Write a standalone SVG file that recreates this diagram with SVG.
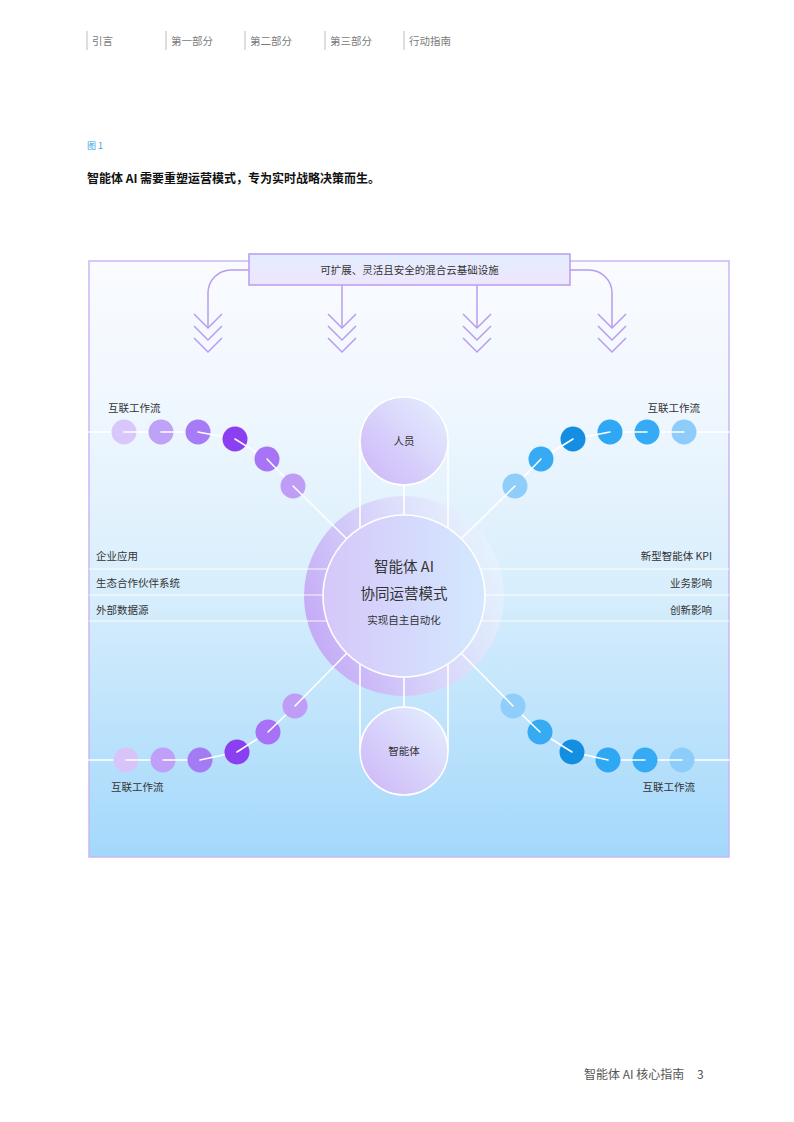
<svg xmlns="http://www.w3.org/2000/svg" width="794" height="1122" viewBox="0 0 794 1122">
<style>
text{font-family:"Noto Sans CJK SC","Noto Sans",sans-serif;}
.nav{font-size:10.5px;fill:#7a7a7a;}
.sep{stroke:#bdbdbd;stroke-width:1;}
.lbl{font-size:10.5px;fill:#333;}
.wl{stroke:#ffffff;stroke-width:1.6;fill:none;stroke-linecap:round;}
.hl{stroke:#ffffff;stroke-width:1.2;opacity:0.9;}
.arr{stroke:#b89cee;stroke-width:1.5;fill:none;}
.ctr{text-anchor:middle;}
</style>
<defs>
<linearGradient id="bg" x1="0" y1="0" x2="0" y2="1">
<stop offset="0" stop-color="#fafbff"/>
<stop offset="0.25" stop-color="#eff7fe"/>
<stop offset="0.55" stop-color="#d8eefc"/>
<stop offset="1" stop-color="#a3d8fb"/>
</linearGradient>
<linearGradient id="box" x1="0" y1="0" x2="0" y2="1">
<stop offset="0" stop-color="#e3eefd"/>
<stop offset="1" stop-color="#eee5fd"/>
</linearGradient>
<linearGradient id="halo" x1="0" y1="0.7" x2="1" y2="0.3">
<stop offset="0" stop-color="#c3a8f6"/>
<stop offset="0.5" stop-color="#d8d5fa"/>
<stop offset="1" stop-color="#eaf5fe" stop-opacity="0.7"/>
</linearGradient>
<linearGradient id="inner" x1="0" y1="0" x2="1" y2="0">
<stop offset="0" stop-color="#d6c7fa"/>
<stop offset="1" stop-color="#d3e9fe"/>
</linearGradient>
<linearGradient id="node" x1="0" y1="1" x2="1" y2="0">
<stop offset="0" stop-color="#cdb4f8"/>
<stop offset="1" stop-color="#e4f2fe"/>
</linearGradient>
</defs>

<!-- header nav -->
<g id="nav">
<line class="sep" x1="87" y1="31" x2="87" y2="50"/>
<line class="sep" x1="166" y1="31" x2="166" y2="50"/>
<line class="sep" x1="245" y1="31" x2="245" y2="50"/>
<line class="sep" x1="325" y1="31" x2="325" y2="50"/>
<line class="sep" x1="404" y1="31" x2="404" y2="50"/>
<text class="nav" x="92" y="45">引言</text>
<text class="nav" x="171" y="45">第一部分</text>
<text class="nav" x="250" y="45">第二部分</text>
<text class="nav" x="330" y="45">第三部分</text>
<text class="nav" x="409" y="45">行动指南</text>
</g>

<g id="caption">
<text x="87" y="149" style="font-size:9px;fill:#3aa2e8;">图 1</text>
<text x="87" y="183" style="font-size:12px;font-weight:bold;fill:#111;">智能体 AI 需要重塑运营模式，专为实时战略决策而生。</text>
</g>

<!-- frame -->
<rect id="frame" x="89" y="261" width="640" height="596" fill="url(#bg)" stroke="#c9b6f5" stroke-width="1.5"/>

<!-- infrastructure arrows -->
<g id="connectors-top">
<path class="arr" d="M249,270 H231 A23,23 0 0 0 208,293 V328"/>
<path class="arr" d="M570,270 H589 A23,23 0 0 1 612,293 V328"/>
<line class="arr" x1="342" y1="285" x2="342" y2="328"/>
<line class="arr" x1="477" y1="285" x2="477" y2="328"/>
<g class="arr">
<polyline points="194,314 208,328 222,314"/><polyline points="194,326 208,340 222,326"/><polyline points="194,338 208,352 222,338"/>
<polyline points="328,314 342,328 356,314"/><polyline points="328,326 342,340 356,326"/><polyline points="328,338 342,352 356,338"/>
<polyline points="463,314 477,328 491,314"/><polyline points="463,326 477,340 491,326"/><polyline points="463,338 477,352 491,338"/>
<polyline points="598,314 612,328 626,314"/><polyline points="598,326 612,340 626,326"/><polyline points="598,338 612,352 626,338"/>
</g>
</g>

<g id="infra">
<rect x="249" y="254" width="321" height="31" fill="url(#box)" stroke="#b89cee" stroke-width="1.5"/>
<text class="lbl ctr" x="409.5" y="273.5">可扩展、灵活且安全的混合云基础设施</text>
</g>

<!-- halo -->
<circle id="halo" cx="404" cy="596" r="100" fill="url(#halo)"/>

<!-- connectors -->
<g id="connectors">
<line class="hl" x1="89" y1="569" x2="330" y2="569"/>
<line class="hl" x1="89" y1="595" x2="330" y2="595"/>
<line class="hl" x1="89" y1="621" x2="330" y2="621"/>
<line class="hl" x1="478" y1="569" x2="729" y2="569"/>
<line class="hl" x1="478" y1="595" x2="729" y2="595"/>
<line class="hl" x1="478" y1="621" x2="729" y2="621"/>
<line class="wl" x1="360" y1="441" x2="360" y2="751"/>
<line class="wl" x1="448" y1="441" x2="448" y2="751"/>
<line class="wl" x1="404" y1="441" x2="404" y2="751"/>
</g>

<!-- upper-left workflow -->
<g id="workflow-upper-left">
<line class="wl" x1="89" y1="432" x2="124" y2="432"/>
<circle cx="124" cy="432" r="12.5" fill="#d9c7fb"/><line class="wl" x1="124" y1="432" x2="161" y2="432"/>
<circle cx="161" cy="432" r="12.5" fill="#bea2f8"/><line class="wl" x1="161" y1="432" x2="198" y2="432"/>
<circle cx="198" cy="432" r="12.5" fill="#a67bf5"/><line class="wl" x1="198" y1="432" x2="235" y2="439"/>
<circle cx="235" cy="439" r="12.5" fill="#8b3ff1"/><line class="wl" x1="235" y1="439" x2="267" y2="459"/>
<circle cx="267" cy="459" r="12.5" fill="#a774f5"/><line class="wl" x1="267" y1="459" x2="293" y2="486"/>
<circle cx="293" cy="486" r="12.5" fill="#bf9df7"/><line class="wl" x1="293" y1="486" x2="347" y2="539"/>
<text class="lbl" x="108" y="412">互联工作流</text>
</g>

<!-- upper-right workflow -->
<g id="workflow-upper-right">
<line class="wl" x1="729" y1="432" x2="684" y2="432"/>
<circle cx="684" cy="432" r="12.5" fill="#8ecdfb"/><line class="wl" x1="684" y1="432" x2="647" y2="432"/>
<circle cx="647" cy="432" r="12.5" fill="#36abf5"/><line class="wl" x1="647" y1="432" x2="610" y2="432"/>
<circle cx="610" cy="432" r="12.5" fill="#2ea8f4"/><line class="wl" x1="610" y1="432" x2="573" y2="439"/>
<circle cx="573" cy="439" r="12.5" fill="#138ee0"/><line class="wl" x1="573" y1="439" x2="541" y2="459"/>
<circle cx="541" cy="459" r="12.5" fill="#36aaf3"/><line class="wl" x1="541" y1="459" x2="515" y2="486"/>
<circle cx="515" cy="486" r="12.5" fill="#8fcdfb"/><line class="wl" x1="515" y1="486" x2="461" y2="539"/>
<text class="lbl" x="700" y="412" text-anchor="end">互联工作流</text>
</g>

<!-- lower-left workflow -->
<g id="workflow-lower-left">
<line class="wl" x1="89" y1="760" x2="126" y2="760"/>
<circle cx="126" cy="760" r="12.5" fill="#d8c3fb"/><line class="wl" x1="126" y1="760" x2="163" y2="760"/>
<circle cx="163" cy="760" r="12.5" fill="#bf9ff7"/><line class="wl" x1="163" y1="760" x2="200" y2="760"/>
<circle cx="200" cy="760" r="12.5" fill="#a57af5"/><line class="wl" x1="200" y1="760" x2="237" y2="752"/>
<circle cx="237" cy="752" r="12.5" fill="#8a3ff0"/><line class="wl" x1="237" y1="752" x2="268" y2="732"/>
<circle cx="268" cy="732" r="12.5" fill="#a772f5"/><line class="wl" x1="268" y1="732" x2="295" y2="706"/>
<circle cx="295" cy="706" r="12.5" fill="#bf9cf6"/><line class="wl" x1="295" y1="706" x2="347" y2="653"/>
<text class="lbl" x="111" y="791">互联工作流</text>
</g>

<!-- lower-right workflow -->
<g id="workflow-lower-right">
<line class="wl" x1="729" y1="760" x2="682" y2="760"/>
<circle cx="682" cy="760" r="12.5" fill="#8dcdfb"/><line class="wl" x1="682" y1="760" x2="645" y2="760"/>
<circle cx="645" cy="760" r="12.5" fill="#36abf5"/><line class="wl" x1="645" y1="760" x2="608" y2="760"/>
<circle cx="608" cy="760" r="12.5" fill="#2fa8f4"/><line class="wl" x1="608" y1="760" x2="572" y2="752"/>
<circle cx="572" cy="752" r="12.5" fill="#138ee0"/><line class="wl" x1="572" y1="752" x2="540" y2="732"/>
<circle cx="540" cy="732" r="12.5" fill="#36aaf3"/><line class="wl" x1="540" y1="732" x2="513" y2="706"/>
<circle cx="513" cy="706" r="12.5" fill="#8fcdfb"/><line class="wl" x1="513" y1="706" x2="461" y2="653"/>
<text class="lbl" x="695" y="791" text-anchor="end">互联工作流</text>
</g>

<!-- people node -->
<g id="people">
<circle cx="404" cy="441" r="44" fill="url(#node)" stroke="#ffffff" stroke-width="1.5"/>
<text class="lbl ctr" x="404" y="445">人员</text>
</g>

<!-- agent node -->
<g id="agent">
<circle cx="404" cy="751" r="44" fill="url(#node)" stroke="#ffffff" stroke-width="1.5"/>
<text class="lbl ctr" x="404" y="755">智能体</text>
</g>

<!-- central node -->
<g id="core">
<circle cx="404" cy="596" r="81" fill="url(#inner)" stroke="#ffffff" stroke-width="1.6"/>
<text class="ctr" x="404" y="572" style="font-size:14.5px;fill:#333;">智能体 AI</text>
<text class="ctr" x="404" y="599" style="font-size:14.5px;fill:#333;">协同运营模式</text>
<text class="ctr" x="404" y="624" style="font-size:10.5px;fill:#333;">实现自主自动化</text>
</g>

<!-- side labels -->
<g id="inputs">
<text class="lbl" x="96" y="560">企业应用</text>
<text class="lbl" x="96" y="587">生态合作伙伴系统</text>
<text class="lbl" x="96" y="614">外部数据源</text>
</g>
<g id="outcomes">
<text class="lbl" x="712" y="560" text-anchor="end">新型智能体 KPI</text>
<text class="lbl" x="712" y="587" text-anchor="end">业务影响</text>
<text class="lbl" x="712" y="614" text-anchor="end">创新影响</text>
</g>

<g id="footer">
<text x="584" y="1079" style="font-size:12px;fill:#555;">智能体 AI 核心指南</text>
<text x="697" y="1079" style="font-size:12px;fill:#555;">3</text>
</g>
</svg>
